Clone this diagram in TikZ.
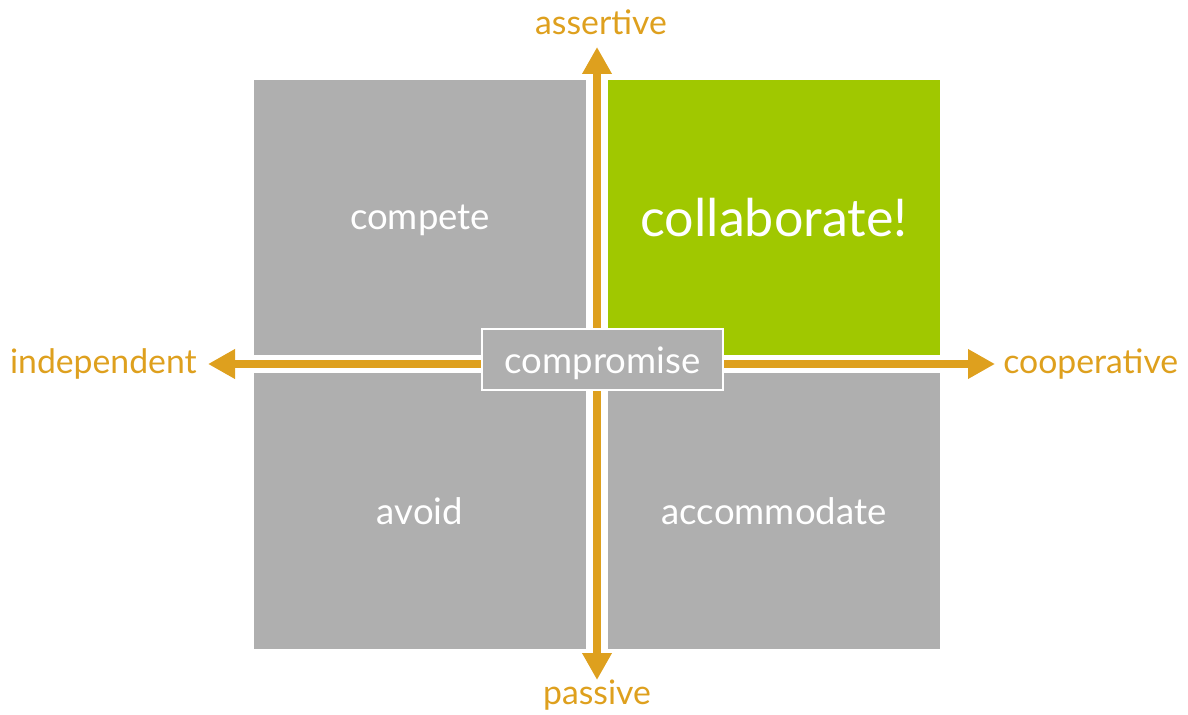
\documentclass[tikz,border=0pt]{standalone}
\usepackage{fontspec}
\setmainfont{Lato}
\usetikzlibrary{arrows.meta}

\definecolor{quadgray}{RGB}{175,175,175}
\definecolor{collabgreen}{RGB}{160,200,0}
\definecolor{axisorange}{RGB}{222,160,30}

\begin{document}
\begin{tikzpicture}[x=0.025cm,y=-0.025cm,
  quad/.style={fill=quadgray,minimum width=8.3cm,minimum height=6.875cm,
    inner sep=0pt,text=white,text depth=0pt,font=\fontsize{26}{30}\selectfont},
  axis/.style={draw=axisorange,line width=5.7pt,
    {Triangle[length=19.2pt,width=19.9pt]}-{Triangle[length=19.2pt,width=19.9pt]}},
  axlabel/.style={text=axisorange,inner sep=0pt,font=\fontsize{24}{28}\selectfont}]
\useasboundingbox (0,0) rectangle (1188,715);

% the four quadrants
\node[quad] (compete) at (420,217.5) {compete};
\node[quad,fill=collabgreen,font=\fontsize{37}{42}\selectfont] (collab) at (774,217.5) {collaborate!};
\node[quad] (avoid) at (420,511) {avoid};
\node[quad] (accom) at (774,511) {accommodate};

% axis ends and labels
\coordinate (top) at (597,47);
\coordinate (bottom) at (597,680);
\coordinate (left) at (208,364);
\coordinate (right) at (995,364);
\node[axlabel] (assert) at (601,22) {assertive};
\node[axlabel] (passive) at (597,695) {passive};
\node[axlabel,anchor=east] (indep) at (197,364) {independent};
\node[axlabel,anchor=west] (coop) at (1003,364) {cooperative};

\draw[axis] (bottom) -- (top);
\draw[axis] (left) -- (right);

% compromise in the middle
\node[quad,draw=white,line width=1.2pt,minimum width=6.04cm,minimum height=1.52cm]
  (comp) at (602.5,359.7) {compromise};
\end{tikzpicture}
\end{document}
